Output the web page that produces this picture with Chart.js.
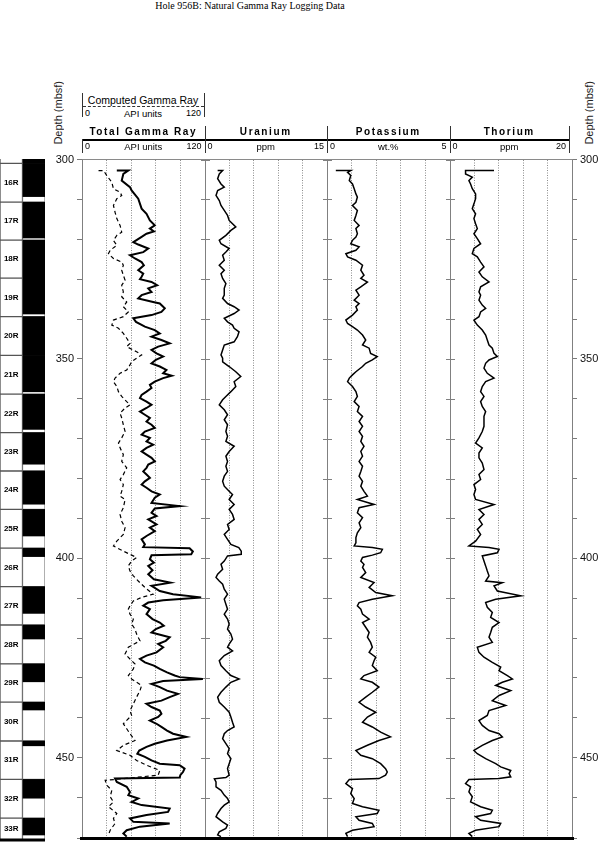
<!DOCTYPE html>
<html>
<head>
<meta charset="utf-8">
<script src="https://cdn.jsdelivr.net/npm/chart.js@4.4.1/dist/chart.umd.min.js"></script>
<style>
  body { margin: 0; width: 601px; height: 842px; position: relative; overflow: hidden; background: #fff; }
  .t { position: absolute; font-family: "Liberation Sans", Arial, sans-serif; color: #000; white-space: nowrap; line-height: 1; }
  .ln { position: absolute; background: #333; }
  canvas { position: absolute; }
</style>
</head>
<body>
<canvas id="cores" width="45" height="698" style="left:0;top:150px"></canvas>
<canvas id="logs" width="561" height="698" style="left:40px;top:150px"></canvas>
<div id="head"></div>

<script>
// core recovery column
var coreName = ['15R', '16R', '17R', '18R', '19R', '20R', '21R', '22R', '23R', '24R', '25R', '26R', '27R', '28R', '29R', '30R', '31R', '32R', '33R'];
var coreTop = [291.5, 301.1, 310.8, 320.3, 329.8, 339.4, 349.1, 358.8, 368.4, 378.0, 387.6, 397.3, 406.9, 416.5, 426.2, 435.8, 445.5, 455.1, 464.8];
var coreBase = [301.1, 310.8, 320.3, 329.8, 339.4, 349.1, 358.8, 368.4, 378.0, 387.6, 397.3, 406.9, 416.5, 426.2, 435.8, 445.5, 455.1, 464.8, 474.4];
var recBase = [301.0, 309.4, 319.75, 329.8, 338.75, 349.0, 358.2, 367.6, 376.3, 386.3, 394.25, 399.4, 413.6, 420.0, 430.7, 437.75, 446.7, 459.8, 469.0];

// Total Gamma Ray (API units)
var grDepth = [
  302.75, 302.75, 303.6, 305.25, 306.9, 307.75, 309.8, 312.3, 313.6, 315.25,
  316.5, 317.3, 318.0, 318.6, 319.4, 320.7, 321.3, 322.3, 323.2, 324.0,
  324.8, 325.7, 326.5, 327.75, 328.6, 329.4, 330.0, 330.7, 331.5, 332.3,
  333.2, 334.0, 334.8, 335.7, 336.1, 337.3, 338.2, 339.0, 339.8, 340.7,
  341.9, 342.75, 343.6, 344.4, 345.25, 346.1, 346.9, 347.75, 348.6, 349.4,
  350.25, 351.1, 351.9, 352.75, 353.6, 354.2, 354.8, 355.7, 356.5, 357.3,
  358.2, 359.0, 359.8, 360.7, 361.5, 362.3, 363.2, 364.0, 364.8, 365.7,
  366.5, 367.3, 368.2, 369.0, 369.8, 370.7, 371.5, 372.3, 373.2, 374.0,
  374.8, 375.7, 376.5, 377.3, 378.2, 379.0, 379.8, 380.7, 381.5, 382.3,
  383.2, 384.0, 384.8,
  386.1, 386.9, 387.5, 388.6, 389.4, 390.25, 391.5, 392.3, 393.2, 394.4,
  395.25, 396.5, 397.2, 397.5, 398.3, 399.0, 399.25, 400.25, 401.1, 401.9,
  403.0, 404.0, 405.25, 406.1, 406.9, 408.2, 409.0, 409.8, 410.5, 411.1,
  411.9, 412.75, 414.0, 415.25, 416.1, 416.9, 417.75, 418.6, 419.8, 420.7,
  421.5, 422.3, 423.6, 424.4, 425.25, 426.1, 426.9, 427.75, 428.6, 429.4,
  429.8, 430.25, 430.8, 431.5, 432.3, 433.2, 434.0, 434.8, 435.7, 436.5,
  437.3, 438.2, 439.0, 439.8, 440.7, 441.5, 442.3, 443.2, 444.0, 444.8,
  445.7, 446.5, 447.3, 448.2, 449.0, 449.8, 450.7, 451.5, 451.9, 452.75,
  453.6, 454.4, 455.0, 455.25, 456.1, 457.3, 458.6, 459.4, 460.25, 461.1,
  461.9, 462.75, 463.6, 464.4, 465.25, 466.1, 466.5, 467.3, 468.2, 469.0,
  469.8
];
var grValue = [
  34.1, 45.4, 40.5, 38.9, 47.0, 48.6, 55.1, 58.4, 63.2, 66.5,
  71.3, 66.5, 70.4, 63.2, 58.4, 50.3, 55.1, 64.9, 60.0, 47.0,
  51.9, 58.4, 60.6, 55.1, 60.0, 58.4, 56.8, 68.1, 73.6, 64.9,
  68.1, 58.4, 55.1, 69.7, 76.2, 81.1, 77.8, 68.1, 50.3, 52.9,
  61.6, 71.3, 76.2, 68.1, 77.8, 85.9, 74.6, 68.1, 73.0, 79.5,
  72.3, 68.1, 76.2, 82.7, 79.5, 87.9, 79.5, 71.3, 66.5, 68.1,
  63.2, 58.4, 56.8, 63.2, 68.1, 63.2, 56.8, 61.6, 66.5, 63.2,
  68.1, 71.3, 61.6, 58.4, 66.5, 63.2, 69.7, 63.2, 58.4, 63.2,
  68.1, 71.3, 64.9, 63.2, 60.0, 63.2, 66.5, 61.6, 58.4, 63.2,
  68.1, 76.2, 71.3,
  68.1, 95.7, 71.3, 68.1, 73.0, 64.9, 73.0, 66.5, 71.3, 63.2,
  58.4, 61.6, 60.0, 105.4, 108.6, 107.0, 68.1, 66.5, 70.4, 64.9,
  69.1, 64.9, 70.4, 86.6, 68.1, 76.2, 89.2, 116.7, 79.5, 64.9,
  60.0, 66.5, 63.2, 69.1, 76.2, 80.1, 72.3, 68.1, 85.9, 82.0,
  74.6, 79.5, 73.0, 63.2, 56.8, 61.6, 70.4, 76.2, 83.3, 90.8,
  95.7, 118.4, 79.5, 68.1, 76.2, 83.3, 94.0, 85.9, 77.8, 63.2,
  68.1, 76.2, 77.8, 74.6, 66.5, 73.0, 77.8, 83.3, 89.2, 102.2,
  83.3, 71.3, 63.2, 56.1, 54.2, 61.6, 68.1, 76.2, 95.7, 100.5,
  98.9, 96.3, 95.7, 32.4, 34.1, 43.8, 47.0, 45.4, 55.1, 48.6,
  58.4, 85.9, 84.3, 63.2, 47.0, 50.3, 85.9, 56.8, 43.8, 40.5,
  43.8
];

// Computed Gamma Ray (API units)
var cgrDepth = [
  302.75, 302.75, 304.0, 305.7, 307.3, 308.2, 309.0, 309.8, 311.5, 313.2,
  314.8, 316.5, 318.2, 319.0, 320.25, 321.5, 322.75, 323.6, 324.8, 325.7,
  326.5, 327.75, 329.0, 330.25, 331.5, 333.2, 334.4, 335.7, 336.9, 338.2,
  339.4, 340.25, 341.5, 342.3, 343.6, 344.8, 346.1, 346.9, 348.2, 349.0,
  349.8, 350.7, 351.5, 352.75, 353.6, 354.8, 355.7, 356.9, 358.2, 359.4,
  360.7, 361.5, 362.3, 363.6, 364.8, 366.5, 368.2, 369.8, 371.1, 372.3,
  374.0, 375.7, 377.3, 379.0, 380.25, 381.5, 383.2, 384.4, 385.25, 387.3,
  389.0, 390.7, 392.3, 394.0, 395.7, 396.9, 398.2, 399.0, 399.8, 400.7,
  401.9, 403.2, 404.4, 405.7, 407.3, 409.0, 409.8, 410.7, 411.9, 412.75,
  414.0, 415.25, 416.5, 417.75, 419.0, 420.7, 422.3, 424.0, 425.25, 426.5,
  427.75, 429.4, 430.25, 431.9, 433.2, 434.8, 436.5, 438.2, 439.4, 441.5,
  442.75, 444.0, 445.7, 446.9, 448.2, 449.4, 450.7, 451.9, 453.2, 454.4,
  455.7, 456.9, 458.2, 459.8, 461.1, 462.3, 464.0, 465.25, 466.5, 468.2,
  469.4
];
var cgrValue = [
  16.2, 21.1, 24.3, 29.2, 30.8, 37.3, 38.9, 34.1, 30.8, 32.4,
  34.1, 37.3, 38.9, 34.1, 30.8, 34.1, 27.6, 25.9, 30.8, 38.9,
  40.5, 38.9, 40.5, 42.2, 38.9, 40.5, 38.9, 43.8, 40.5, 45.4,
  40.5, 30.8, 29.2, 35.7, 40.5, 43.8, 47.0, 43.8, 53.5, 58.4,
  53.5, 48.6, 47.0, 43.8, 37.3, 32.4, 30.8, 34.1, 35.7, 38.9,
  43.8, 47.0, 42.2, 37.3, 38.9, 40.5, 42.2, 38.9, 35.7, 37.3,
  40.5, 38.9, 43.8, 40.5, 37.3, 40.5, 38.9, 37.3, 42.2, 40.5,
  37.3, 38.9, 42.2, 40.5, 34.1, 30.8, 40.5, 47.0, 53.5, 48.6,
  45.4, 47.0, 50.3, 55.1, 61.6, 69.7, 58.4, 50.3, 47.0, 45.4,
  47.0, 50.3, 48.6, 51.9, 53.5, 56.8, 45.4, 42.2, 47.0, 51.9,
  50.3, 45.4, 48.6, 58.4, 56.8, 53.5, 50.3, 47.0, 48.6, 40.5,
  43.8, 47.0, 51.9, 40.5, 34.1, 47.0, 53.5, 63.2, 76.2, 74.6,
  22.7, 24.3, 29.2, 27.6, 30.8, 25.9, 34.1, 30.8, 32.4, 27.6,
  25.9
];

// Uranium (ppm)
var uDepth = [
  302.75, 302.75, 303.6, 304.8, 306.1, 306.9, 307.75, 309.0, 310.25, 311.5,
  312.75, 314.0, 315.25, 316.1, 316.9, 317.75, 319.0, 320.25, 321.1, 322.3,
  323.2, 324.0, 325.25, 326.5, 327.75, 328.6, 329.8, 331.1, 332.3, 334.0,
  334.8, 336.1, 336.9, 337.75, 338.6, 339.8, 340.7, 341.5, 342.3, 343.2,
  344.4, 345.7, 346.5, 347.75, 349.0, 349.8, 350.7, 351.9, 353.2, 354.4,
  355.7, 356.9, 358.2, 359.4, 360.25, 361.5, 362.75, 364.0, 365.25, 366.5,
  368.2, 369.4, 370.7, 371.9, 373.2, 374.4, 375.7, 376.9, 378.2, 379.4,
  380.7, 381.9, 383.2, 384.0, 385.25, 386.5, 387.75, 389.0, 390.25, 391.5,
  392.75, 394.0, 395.25, 396.5, 397.3, 398.2, 399.0, 399.4, 400.7, 401.5,
  402.75, 404.0, 404.8, 405.7, 406.5, 407.75, 409.0, 410.25, 411.5, 412.75,
  414.0, 415.25, 416.5, 417.75, 419.0, 420.25, 421.5, 422.3, 423.2, 424.4,
  425.7, 426.9, 428.2, 429.4, 430.25, 431.1, 432.3, 433.6, 434.8, 436.1,
  437.3, 438.6, 439.8, 441.1, 442.3, 443.2, 444.0, 445.25, 446.5, 447.75,
  449.0, 450.25, 451.5, 452.75, 454.4, 455.0, 455.3, 456.1, 457.3, 458.2,
  459.4, 460.25, 461.1, 461.9, 462.75, 464.0, 464.8, 466.1, 466.9, 467.75,
  468.6, 469.4, 469.8
];
var uValue = [
  1.61, 2.22, 1.81, 1.61, 2.02, 2.42, 1.61, 1.41, 1.81, 2.02,
  2.42, 2.82, 3.02, 3.43, 3.83, 3.23, 2.62, 1.81, 2.02, 3.02,
  2.62, 2.22, 2.42, 1.81, 2.42, 2.02, 2.22, 2.62, 2.42, 2.42,
  2.22, 2.82, 3.63, 4.23, 3.63, 2.42, 2.82, 3.43, 3.63, 4.23,
  4.03, 3.63, 2.42, 2.22, 2.02, 2.22, 2.22, 3.02, 3.83, 4.44,
  3.63, 3.83, 3.23, 2.62, 2.22, 1.81, 2.42, 2.82, 2.42, 2.82,
  2.62, 2.82, 2.62, 3.63, 3.02, 2.62, 2.82, 2.62, 2.82, 2.42,
  2.22, 2.42, 3.02, 3.43, 3.02, 3.63, 3.02, 3.43, 3.63, 2.82,
  3.02, 2.42, 2.82, 3.23, 4.2, 4.5, 4.5, 2.82, 2.42, 2.02,
  2.22, 1.61, 1.41, 1.81, 2.22, 2.42, 2.82, 2.42, 2.62, 2.82,
  2.42, 2.82, 3.02, 2.82, 3.23, 3.43, 3.02, 2.82, 3.43, 2.42,
  1.81, 2.02, 2.62, 3.23, 4.23, 3.23, 2.62, 2.02, 1.61, 1.81,
  2.42, 3.02, 3.23, 3.43, 3.63, 2.82, 2.42, 2.22, 2.62, 3.02,
  2.82, 3.23, 3.02, 2.82, 3.02, 2.62, 1.21, 1.41, 1.41, 2.02,
  2.42, 2.82, 3.02, 2.42, 2.02, 1.61, 1.41, 2.22, 2.82, 2.62,
  1.81, 1.61, 2.02
];

// Potassium (wt.%)
var kDepth = [
  302.75, 302.75, 303.2, 304.0, 305.25, 306.1, 307.3, 308.6, 309.4, 310.7,
  311.5, 312.75, 314.0, 315.25, 316.5, 317.3, 318.6, 319.4, 320.25, 321.1,
  321.9, 322.75, 323.6, 324.4, 325.25, 326.5, 327.75, 329.0, 329.8, 330.7,
  331.9, 332.75, 334.0, 335.25, 336.1, 336.9, 337.75, 339.0, 340.25, 341.1,
  341.9, 342.75, 344.0, 345.25, 346.5, 347.3, 348.6, 349.4, 350.25, 351.1,
  351.9, 353.2, 354.0, 354.8, 355.7, 356.9, 358.2, 359.4, 360.7, 361.9,
  363.2, 364.4, 365.7, 366.9, 368.2, 369.4, 370.7, 371.9, 373.2, 374.4,
  375.7, 376.9, 378.2, 379.4, 380.7, 381.9, 383.2, 384.4, 385.25, 386.5,
  387.3, 388.6, 389.8, 391.1, 392.3, 393.6, 394.8, 396.1, 396.9, 397.3,
  397.75, 398.6, 399.2, 399.8, 400.7, 401.5, 402.3, 403.6, 404.8, 406.1,
  406.5, 407.3, 408.6, 409.4, 410.25, 411.1, 411.9, 412.75, 414.0, 415.25,
  416.1, 417.3, 418.6, 419.8, 421.1, 422.3, 423.6, 424.8, 425.7, 426.9,
  428.2, 429.4, 430.25, 431.1, 432.3, 433.6, 434.8, 436.1, 437.3, 438.6,
  439.8, 441.1, 442.3, 443.6, 444.8, 445.7, 446.9, 448.2, 449.4, 450.25,
  451.5, 452.75, 453.6, 454.4, 455.25, 455.5, 456.5, 457.75, 459.0, 460.25,
  461.5, 462.3, 463.2, 464.0, 464.8, 465.7, 466.5, 467.3, 468.2, 469.0,
  469.8
];
var kValue = [
  0.36, 0.97, 0.84, 0.97, 0.91, 1.04, 1.11, 1.18, 1.24, 1.18,
  1.04, 1.24, 1.18, 1.11, 1.31, 1.18, 1.24, 1.18, 1.04, 0.97,
  1.31, 1.18, 0.77, 0.84, 1.18, 1.45, 1.38, 1.51, 1.38, 1.65,
  1.38, 1.18, 1.31, 1.11, 1.31, 1.18, 1.24, 1.04, 0.77, 0.84,
  1.04, 1.24, 1.45, 1.58, 1.45, 1.72, 1.78, 2.05, 1.85, 1.58,
  1.45, 1.18, 1.04, 0.91, 0.84, 1.04, 1.18, 1.24, 1.11, 1.31,
  1.24, 1.45, 1.31, 1.45, 1.31, 1.45, 1.38, 1.51, 1.38, 1.45,
  1.31, 1.45, 1.38, 1.31, 1.45, 1.38, 1.51, 1.65, 1.24, 1.92,
  1.31, 1.24, 1.45, 1.31, 1.38, 1.24, 1.18, 1.18, 1.11, 1.85,
  2.26, 2.19, 1.85, 1.45, 1.38, 1.51, 1.45, 1.58, 1.38, 1.92,
  1.85, 1.72, 1.99, 2.66, 1.85, 1.31, 1.24, 1.38, 1.45, 1.72,
  1.45, 1.58, 1.72, 1.65, 1.78, 1.85, 1.72, 1.99, 1.92, 1.85,
  2.05, 1.51, 1.38, 1.85, 2.12, 1.85, 1.58, 1.31, 1.58, 1.99,
  1.65, 1.45, 1.85, 2.19, 2.59, 2.12, 1.65, 1.18, 1.38, 1.85,
  2.19, 2.39, 2.46, 2.39, 2.12, 0.91, 0.77, 1.04, 0.97, 1.11,
  1.04, 1.45, 2.12, 2.05, 1.18, 1.31, 1.85, 1.92, 1.04, 0.77,
  0.84
];

// Thorium (ppm)
var thDepth = [
  302.75, 302.75, 303.6, 304.4, 305.25, 306.1, 307.3, 308.6, 309.8, 311.1,
  312.3, 313.6, 314.8, 316.1, 317.3, 318.6, 319.8, 321.1, 322.3, 323.6,
  324.4, 325.7, 326.9, 328.2, 329.4, 330.7, 331.9, 333.2, 334.0, 335.25,
  336.5, 337.3, 338.2, 339.4, 340.25, 341.5, 342.75, 344.0, 345.25, 346.5,
  347.3, 348.6, 349.4, 350.25, 351.1, 352.3, 353.6, 354.8, 355.7, 356.9,
  358.2, 359.4, 360.7, 361.9, 363.2, 364.4, 365.7, 366.9, 368.2, 369.8,
  371.1, 372.3, 373.6, 374.8, 376.1, 377.75, 379.0, 380.25, 381.5, 382.75,
  384.0, 385.25, 386.5, 387.75, 389.0, 390.25, 391.5, 392.75, 394.0, 395.7,
  396.9, 397.3, 397.75, 398.6, 399.4, 400.7, 401.9, 403.2, 404.4, 405.7,
  406.1, 406.9, 408.2, 409.4, 410.25, 411.1, 412.3, 413.6, 414.8, 416.1,
  417.3, 418.6, 419.8, 421.1, 422.3, 423.6, 424.8, 426.1, 427.3, 428.2,
  429.4, 430.25, 431.1, 431.9, 433.2, 434.4, 435.7, 436.9, 438.2, 439.4,
  440.7, 441.9, 443.2, 444.0, 444.8, 445.7, 446.9, 448.2, 449.0, 450.25,
  451.5, 452.3, 453.2, 454.0, 454.8, 455.25, 455.5, 456.5, 457.3, 458.6,
  459.8, 461.1, 462.3, 463.2, 464.0, 464.8, 465.7, 466.5, 467.3, 468.2,
  469.0, 469.8
];
var thValue = [
  7.27, 2.62, 2.62, 3.72, 3.17, 3.44, 3.72, 4.26, 4.26, 3.99,
  3.72, 4.26, 3.99, 4.26, 4.54, 3.99, 4.54, 5.08, 3.99, 3.72,
  4.54, 5.08, 5.63, 4.81, 5.35, 6.45, 5.08, 4.81, 5.08, 4.81,
  5.35, 5.90, 5.08, 4.81, 3.99, 4.54, 5.35, 5.90, 6.17, 6.45,
  6.99, 7.27, 7.81, 6.45, 5.90, 5.63, 6.17, 7.27, 5.90, 5.35,
  5.08, 5.63, 5.08, 5.35, 5.90, 5.63, 5.63, 5.63, 5.35, 4.81,
  4.26, 5.35, 4.81, 4.81, 5.35, 5.63, 4.81, 5.08, 3.99, 4.26,
  3.99, 4.26, 7.27, 4.81, 5.63, 4.81, 5.35, 4.54, 5.08, 4.26,
  3.17, 6.45, 8.09, 7.81, 5.35, 5.63, 5.90, 6.17, 6.45, 5.90,
  8.63, 7.27, 7.81, 11.64, 7.54, 5.90, 6.17, 6.99, 6.72, 8.09,
  6.99, 6.72, 6.45, 6.99, 4.54, 4.81, 5.63, 6.99, 8.36, 8.09,
  9.45, 10.27, 8.63, 7.54, 10.0, 8.09, 6.99, 9.18, 6.45, 6.17,
  4.81, 5.35, 6.45, 8.09, 8.63, 6.99, 5.35, 3.99, 4.54, 5.90,
  7.54, 8.36, 10.0, 9.73, 10.0, 8.09, 3.17, 2.62, 3.44, 3.17,
  3.72, 3.44, 5.08, 6.99, 6.72, 4.26, 5.08, 8.36, 8.09, 4.26,
  3.17, 3.72
];

// track header text
var trackTitle = ['Total Gamma Ray', 'Uranium', 'Potassium', 'Thorium'];
var trackUnit = ['API units', 'ppm', 'wt.%', 'ppm'];
var trackMax = [120, 15, 5, 20];
var trackStep = [24, 3, 1, 4];

var FONT = '"Liberation Sans", Arial, sans-serif';
var depthMin = 300, depthMax = 470.25;

function pts(depths, vals) {
    var n = Math.min(depths.length, vals.length);
    var out = [];
    for (var i = 0; i < n; i++) out.push({ x: vals[i], y: depths[i] });
    return out;
}

function curve(label, depths, vals, axis, width, dash) {
    return {
        label: label,
        data: pts(depths, vals),
        xAxisID: axis,
        yAxisID: 'y',
        showLine: true,
        borderColor: '#000',
        borderWidth: width,
        borderDash: dash || [],
        pointRadius: 0,
        tension: 0
    };
}

function trackAxis(max, step) {
    return {
        type: 'linear',
        position: 'top',
        stack: 'tracks',
        stackWeight: 1,
        min: 0,
        max: max,
        ticks: { display: false, stepSize: step },
        grid: {
            drawTicks: false,
            color: '#8c8c8c',
            lineWidth: function (c) { return (c.tick.value <= 0 || c.tick.value >= max) ? 0 : 1; }
        },
        border: { display: true, color: '#8a8a8a', width: 1, dash: [1, 1.5] },
        afterFit: function (s) { s.height = 0; }
    };
}

function depthAxis(pos) {
    return {
        type: 'linear',
        position: pos,
        reverse: true,
        min: depthMin,
        max: depthMax,
        ticks: {
            stepSize: 10,
            autoSkip: false,
            padding: 3,
            color: '#111',
            font: { family: FONT, size: 11 },
            callback: function (v) { return v % 50 === 0 ? String(v) : ''; }
        },
        grid: { drawOnChartArea: false, tickLength: 5, color: '#7a7a7a' },
        border: { color: '#8a8a8a' },
        afterFit: function (s) { s.width = pos === 'left' ? 42 : 29; }
    };
}

// solid track edges, small depth ticks on the inner edges, heavy base line
var trackFrame = {
    id: 'trackFrame',
    beforeDatasetsDraw: function (chart) {
        var ctx = chart.ctx, a = chart.chartArea, sc = chart.scales;
        var edges = [sc.xGR.left, sc.xGR.right, sc.xU.right, sc.xK.right, sc.xTh.right];
        ctx.save();
        ctx.strokeStyle = '#808080';
        ctx.lineWidth = 1;
        ctx.beginPath();
        edges.forEach(function (x) {
            var px = Math.round(x) + 0.5;
            ctx.moveTo(px, a.top);
            ctx.lineTo(px, a.bottom);
        });
        sc.y.ticks.forEach(function (t) {
            var py = Math.round(sc.y.getPixelForValue(t.value)) + 0.5;
            edges.slice(1, 4).forEach(function (x) {
                ctx.moveTo(Math.round(x) - 4, py);
                ctx.lineTo(Math.round(x) + 5, py);
            });
        });
        ctx.stroke();
        ctx.restore();
    },
    afterDatasetsDraw: function (chart) {
        var ctx = chart.ctx, a = chart.chartArea;
        ctx.save();
        ctx.strokeStyle = '#000';
        ctx.lineWidth = 3;
        ctx.beginPath();
        ctx.moveTo(a.left - 2, a.bottom);
        ctx.lineTo(a.right + 2, a.bottom);
        ctx.stroke();
        ctx.restore();
    }
};

var coreLabels = {
    id: 'coreLabels',
    afterDatasetsDraw: function (chart) {
        var ctx = chart.ctx, a = chart.chartArea, x = chart.scales.x, y = chart.scales.y;
        ctx.save();
        ctx.font = 'bold 8px "Liberation Sans Narrow", ' + FONT;
        ctx.fillStyle = '#000';
        ctx.textAlign = 'center';
        ctx.textBaseline = 'middle';
        coreName.forEach(function (n, i) {
            var py = y.getPixelForValue((coreTop[i] + Math.min(coreBase[i], depthMax)) / 2);
            if (py < a.top + 4 || py > a.bottom - 4) return;
            ctx.fillText(n, x.getPixelForValue(0), py);
        });
        ctx.strokeStyle = '#000';
        ctx.lineWidth = 3;
        ctx.beginPath();
        ctx.moveTo(a.left, a.bottom);
        ctx.lineTo(a.right, a.bottom);
        ctx.stroke();
        ctx.restore();
    }
};

// lower dataset index is painted on top, so recovered black sits at index 1
new Chart(document.getElementById('cores'), {
    type: 'bar',
    data: {
        labels: ['lab', 'rec'],
        datasets: [{
            data: coreName.map(function (n, i) { return { x: 'lab', y: [coreTop[i], coreBase[i]] }; }),
            backgroundColor: '#fff',
            borderColor: '#555',
            borderWidth: 1,
            borderSkipped: false,
            grouped: false
        }, {
            data: coreName.map(function (n, i) { return { x: 'rec', y: [coreTop[i], recBase[i]] }; }),
            backgroundColor: '#000',
            borderWidth: 0,
            grouped: false
        }, {
            data: coreName.map(function (n, i) { return { x: 'rec', y: [coreTop[i], coreBase[i]] }; }),
            backgroundColor: '#fff',
            borderColor: '#888',
            borderWidth: 1,
            borderSkipped: false,
            grouped: false
        }]
    },
    options: {
        responsive: false,
        animation: false,
        barPercentage: 1,
        categoryPercentage: 1,
        layout: { padding: { top: 9, bottom: 8 } },
        plugins: { legend: { display: false }, tooltip: { enabled: false } },
        scales: {
            x: { display: false },
            y: { display: false, reverse: true, min: depthMin, max: depthMax }
        }
    },
    plugins: [coreLabels]
});

// stacked top axes are laid out right to left, so list them reversed
new Chart(document.getElementById('logs'), {
    type: 'scatter',
    data: {
        datasets: [
            curve('Computed Gamma Ray', cgrDepth, cgrValue, 'xGR', 1.2, [4, 3]),
            curve('Total Gamma Ray', grDepth, grValue, 'xGR', 2),
            curve('Uranium', uDepth, uValue, 'xU', 1.5),
            curve('Potassium', kDepth, kValue, 'xK', 1.5),
            curve('Thorium', thDepth, thValue, 'xTh', 1.5)
        ]
    },
    options: {
        responsive: false,
        animation: false,
        layout: { padding: { top: 9, bottom: 8 } },
        plugins: { legend: { display: false }, tooltip: { enabled: false } },
        scales: {
            xTh: trackAxis(trackMax[3], trackStep[3]),
            xK: trackAxis(trackMax[2], trackStep[2]),
            xU: trackAxis(trackMax[1], trackStep[1]),
            xGR: trackAxis(trackMax[0], trackStep[0]),
            y: depthAxis('left'),
            yR: depthAxis('right')
        }
    },
    plugins: [trackFrame]
});

// header block: title, depth labels, track titles and ranges
(function () {
    var head = document.getElementById('head');
    function add(cls, css, text) {
        var d = document.createElement('div');
        d.className = cls;
        d.style.cssText = css;
        if (text !== undefined) d.textContent = text;
        head.appendChild(d);
        return d;
    }
    add('t', 'left:0;top:0;width:500px;text-align:center;font:10px "Liberation Serif","Times New Roman",serif;', 'Hole 956B: Natural Gamma Ray Logging Data');
    add('t', 'left:53px;top:81px;font-size:11px;writing-mode:vertical-rl;transform:rotate(180deg);color:#222;', 'Depth (mbsf)');
    add('t', 'left:584px;top:81px;font-size:11px;writing-mode:vertical-rl;transform:rotate(180deg);color:#222;', 'Depth (mbsf)');

    // computed gamma ray box
    add('ln', 'left:82px;top:93px;width:1px;height:24px;');
    add('ln', 'left:204px;top:93px;width:1px;height:24px;');
    add('t', 'left:82px;top:95px;width:122px;text-align:center;font-size:10.5px;', 'Computed Gamma Ray');
    add('t', 'left:83px;top:106px;width:121px;height:0;border-top:1px dashed #333;');
    add('t', 'left:85px;top:109px;font-size:9px;', '0');
    add('t', 'left:82px;top:109px;width:122px;text-align:center;font-size:9.5px;', 'API units');
    add('t', 'left:82px;top:109px;width:119px;text-align:right;font-size:9px;', trackMax[0]);

    var left = 82, w = 122.5, right = 569;
    add('ln', 'left:' + left + 'px;top:138.5px;width:' + (right - left + 1) + 'px;height:2px;background:#000;');
    for (var i = 0; i < 4; i++) {
        var L = left + w * i;
        var R = Math.min(L + w, right);
        add('t', 'left:' + L + 'px;top:127px;width:' + (R - L) + 'px;text-align:center;font-weight:bold;font-size:10px;letter-spacing:1.6px;', trackTitle[i]);
        add('t', 'left:' + (L + 3) + 'px;top:142px;font-size:9px;', '0');
        add('t', 'left:' + L + 'px;top:142px;width:' + (R - L) + 'px;text-align:center;font-size:9.5px;', trackUnit[i]);
        add('t', 'left:' + L + 'px;top:142px;width:' + (R - L - 3) + 'px;text-align:right;font-size:9px;', trackMax[i]);
        add('ln', 'left:' + Math.round(R) + 'px;top:126px;width:1px;height:13px;');
        add('ln', 'left:' + Math.round(L) + 'px;top:139px;width:1px;height:14px;');
    }
    add('ln', 'left:' + right + 'px;top:139px;width:1px;height:14px;');
})();
</script>
</body>
</html>
